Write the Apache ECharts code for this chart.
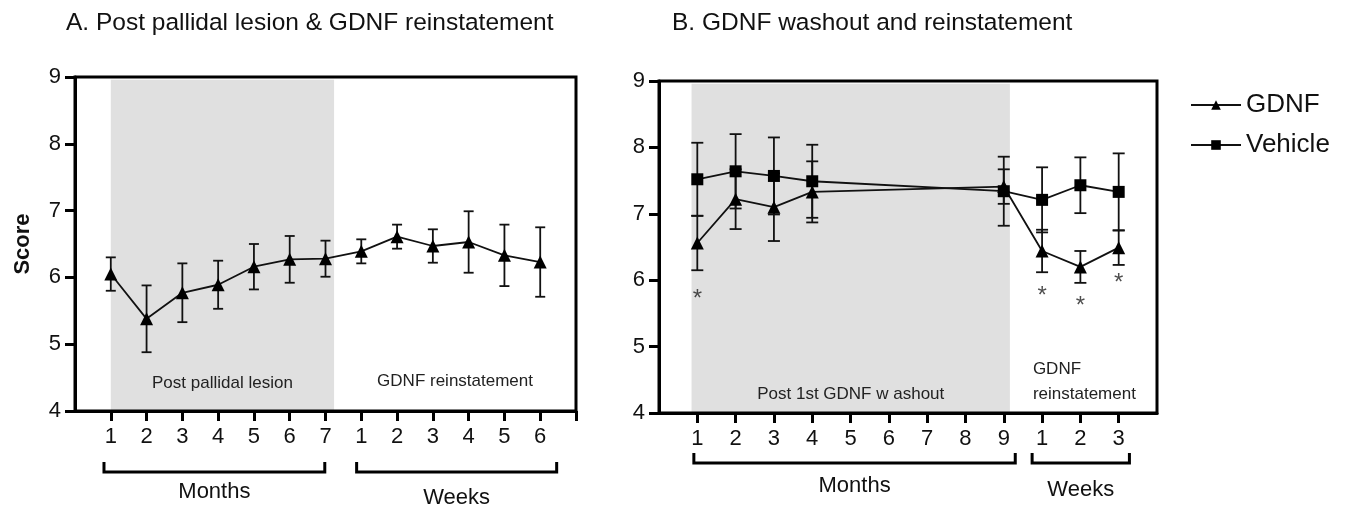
<!DOCTYPE html>
<html>
<head>
<meta charset="utf-8">
<script src="https://cdn.jsdelivr.net/npm/echarts@6/dist/echarts.min.js"></script>
<style>
html,body{margin:0;padding:0;background:#fff;}
#c{width:1351px;height:510px;}
</style>
</head>
<body>
<div id="c"></div>
<script>
// ---------- data ----------
const xLabelsA = ['1','2','3','4','5','6','7','1','2','3','4','5','6'];
const xPosA = [1,2,3,4,5,6,7,8,9,10,11,12,13];
const gdnfA = [6.05, 5.38, 5.77, 5.89, 6.16, 6.27, 6.28, 6.39, 6.61, 6.47, 6.53, 6.33, 6.23];
const gdnfAErr = [0.25, 0.50, 0.44, 0.36, 0.34, 0.35, 0.27, 0.18, 0.18, 0.25, 0.46, 0.46, 0.52];

const xLabelsB = ['1','2','3','4','5','6','7','8','9','1','2','3'];
const xPosB = [1,2,3,4,9,10,11,12];
const gdnfB = [6.56, 7.22, 7.10, 7.33, 7.41, 6.44, 6.20, 6.49];
const gdnfBErr = [0.41, 0.45, 0.51, 0.46, 0.26, 0.32, 0.24, 0.26];
const vehB = [7.52, 7.64, 7.57, 7.49, 7.34, 7.21, 7.43, 7.33];
const vehBErr = [0.55, 0.56, 0.58, 0.55, 0.52, 0.49, 0.42, 0.58];

const starX = [1, 10, 11, 12];
const starY = [5.78, 5.83, 5.68, 6.03];

const yTicks = [4,5,6,7,8,9];

// ---------- build ----------
const FONT = 'Liberation Sans, Arial, sans-serif';
const chart = echarts.init(document.getElementById('c'), null, {renderer:'canvas'});

function pairs(xs, ys){ return xs.map((x,i)=>[x, ys[i]]); }
function errData(xs, ys, es){ return xs.map((x,i)=>[x, ys[i]-es[i], ys[i]+es[i]]); }

function errSeries(name, xi, yi, data, cap){
  return {
    type:'custom', name:name+' err', xAxisIndex:xi, yAxisIndex:yi, silent:true, z:3,
    data:data,
    renderItem:function(params, api){
      const x = api.value(0);
      const lo = api.coord([x, api.value(1)]);
      const hi = api.coord([x, api.value(2)]);
      const st = {stroke:'#111', lineWidth:1.8};
      return {type:'group', children:[
        {type:'line', shape:{x1:lo[0], y1:lo[1], x2:hi[0], y2:hi[1]}, style:st},
        {type:'line', shape:{x1:lo[0]-cap, y1:lo[1], x2:lo[0]+cap, y2:lo[1]}, style:st},
        {type:'line', shape:{x1:hi[0]-cap, y1:hi[1], x2:hi[0]+cap, y2:hi[1]}, style:st}
      ]};
    }
  };
}

function xAxisCfg(gi, max, labels, ticks){
  return {
    type:'value', gridIndex:gi, min:0, max:max, interval:1, z:10,
    splitLine:{show:false},
    axisLine:{show:true, lineStyle:{color:'#000', width:3}},
    axisTick:{show:true, inside:false, length:10, customValues:ticks, lineStyle:{color:'#000', width:3}},
    axisLabel:{show:true, customValues:labels.map((l,i)=>i+1), margin:15, color:'#111', fontSize:22, fontFamily:FONT,
      formatter:function(v){ return labels[Math.round(v)-1] || ''; }}
  };
}
function yAxisCfg(gi){
  return {
    type:'value', gridIndex:gi, min:4, max:9, interval:1, z:10,
    splitLine:{show:false},
    axisLine:{show:true, lineStyle:{color:'#000', width:3}},
    axisTick:{show:true, inside:false, length:10, lineStyle:{color:'#000', width:3}},
    axisLabel:{show:true, margin:14, color:'#111', fontSize:22, fontFamily:FONT}
  };
}

const ticksA = [1,2,3,4,5,6,7,8,9,10,11,12,13,14];
const ticksB = [1,2,3,4,5,6,7,8,9,10,11,12];

const regionLabel = {show:true, color:'#222', fontSize:17, fontFamily:FONT};

const option = {
  animation:false,
  backgroundColor:'#fff',
  title:[
    {text:'A. Post pallidal lesion & GDNF reinstatement', left:61, top:6,
     textStyle:{fontSize:24.5, fontWeight:'normal', color:'#111', fontFamily:FONT}},
    {text:'B. GDNF washout and reinstatement', left:667, top:6,
     textStyle:{fontSize:24.5, fontWeight:'normal', color:'#111', fontFamily:FONT}}
  ],
  legend:{
    data:['GDNF','Vehicle'], orient:'vertical', left:1190, top:92, padding:0,
    itemWidth:50, itemHeight:12, itemGap:14,
    textStyle:{fontSize:26, color:'#111', fontFamily:FONT}
  },
  grid:[
    {left:75, top:77, width:501, height:334, show:true, z:10, backgroundColor:'transparent', borderColor:'#000', borderWidth:3},
    {left:659, top:81, width:498, height:332, show:true, z:10, backgroundColor:'transparent', borderColor:'#000', borderWidth:3}
  ],
  xAxis:[ xAxisCfg(0, 14, xLabelsA, ticksA), xAxisCfg(1, 13, xLabelsB, ticksB) ],
  yAxis:[ yAxisCfg(0), yAxisCfg(1) ],
  series:[
    {
      type:'line', name:'GDNF', xAxisIndex:0, yAxisIndex:0, data:pairs(xPosA, gdnfA),
      symbol:'triangle', symbolSize:13, z:4,
      lineStyle:{color:'#111', width:1.8}, itemStyle:{color:'#000'},
      markArea:{silent:true, data:[
        [{xAxis:1, yAxis:4, itemStyle:{color:'#e0e0e0'}, label:Object.assign({position:'insideBottom', distance:19}, regionLabel), name:'Post pallidal lesion'},
         {xAxis:7.24, yAxis:8.96}],
        [{xAxis:7.24, yAxis:4, itemStyle:{color:'rgba(0,0,0,0)'}, label:Object.assign({position:'insideBottom', distance:21}, regionLabel), name:'GDNF reinstatement'},
         {xAxis:14, yAxis:8.96}]
      ]}
    },
    errSeries('GDNF A', 0, 0, errData(xPosA, gdnfA, gdnfAErr), 5),
    {
      type:'line', name:'GDNF', xAxisIndex:1, yAxisIndex:1, data:pairs(xPosB, gdnfB),
      symbol:'triangle', symbolSize:13, z:4,
      lineStyle:{color:'#111', width:1.8}, itemStyle:{color:'#000'},
      markArea:{silent:true, data:[
        [{xAxis:0.85, yAxis:4, itemStyle:{color:'#e0e0e0'}, label:Object.assign({position:'insideBottom', distance:10}, regionLabel), name:'Post 1st GDNF w ashout'},
         {xAxis:9.16, yAxis:8.96}],
        [{xAxis:9.16, yAxis:4, itemStyle:{color:'rgba(0,0,0,0)'}, label:Object.assign({position:'insideBottomLeft', distance:6, offset:[17,0], lineHeight:25}, regionLabel), name:'GDNF\nreinstatement'},
         {xAxis:13, yAxis:8.96}]
      ]}
    },
    {
      type:'line', name:'Vehicle', xAxisIndex:1, yAxisIndex:1, data:pairs(xPosB, vehB),
      symbol:'rect', symbolSize:12, z:4,
      lineStyle:{color:'#111', width:1.8}, itemStyle:{color:'#000'}
    },
    errSeries('GDNF B', 1, 1, errData(xPosB, gdnfB, gdnfBErr), 6),
    errSeries('Vehicle B', 1, 1, errData(xPosB, vehB, vehBErr), 6),
    {
      type:'scatter', name:'sig', xAxisIndex:1, yAxisIndex:1, data:pairs(starX, starY),
      symbolSize:1, itemStyle:{color:'rgba(0,0,0,0)'}, silent:true,
      label:{show:true, position:'inside', formatter:'*', fontSize:24, color:'#222', fontFamily:FONT, offset:[0,5]}
    }
  ]
};
chart.setOption(option);

// ---------- brackets & axis title ----------
const bracketsA = [[0.81, 6.98, 'Months'], [7.87, 13.46, 'Weeks']];
const bracketsB = [[0.91, 9.30, 'Months'], [9.74, 12.28, 'Weeks']];
const gfx = [];
function addBracket(gi, br, yTop, yBar, labelYs){
  br.forEach((b, k)=>{
    const x1 = chart.convertToPixel({xAxisIndex:gi, yAxisIndex:gi}, [b[0], 4])[0];
    const x2 = chart.convertToPixel({xAxisIndex:gi, yAxisIndex:gi}, [b[1], 4])[0];
    gfx.push({type:'polyline', shape:{points:[[x1,yTop],[x1,yBar],[x2,yBar],[x2,yTop]]},
      style:{stroke:'#000', lineWidth:3, fill:null}});
    gfx.push({type:'text', x:(x1+x2)/2, y:labelYs[k],
      style:{text:b[2], fill:'#111', font:'22px ' + FONT, textAlign:'center', textVerticalAlign:'middle'}});
  });
}
addBracket(0, bracketsA, 462, 472, [492, 498]);
addBracket(1, bracketsB, 453, 463, [486, 490]);
gfx.push({type:'text', x:23, y:244, rotation:Math.PI/2,
  style:{text:'Score', fill:'#111', font:'bold 22px ' + FONT, textAlign:'center', textVerticalAlign:'middle'}});
chart.setOption({graphic:gfx});
</script>
</body>
</html>
